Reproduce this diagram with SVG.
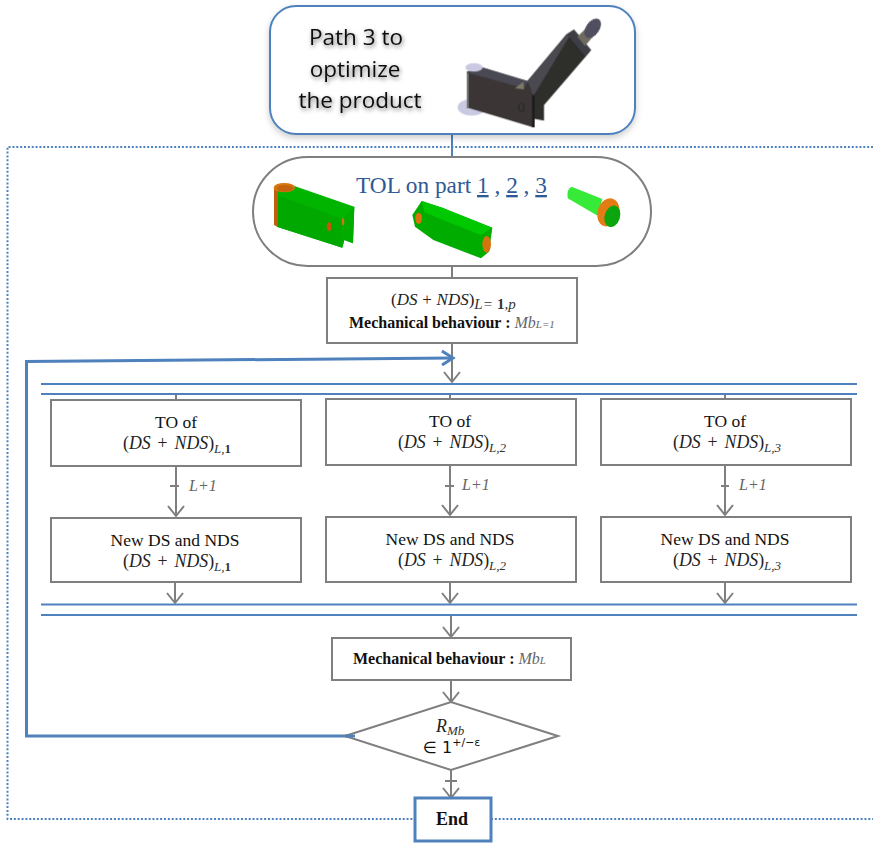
<svg xmlns="http://www.w3.org/2000/svg" width="873" height="843" viewBox="0 0 873 843">
<defs>
<style>
text{font-family:"Liberation Serif","Times New Roman",serif;fill:#111}
.t{text-anchor:middle;font-size:17.5px}
.b{font-weight:bold;font-size:16px}
.m{font-size:17.8px;fill:#222;word-spacing:2.5px}
.m .i{font-style:italic}
.s{font-size:13px;font-style:italic;fill:#333}
.g{font-style:italic;fill:#666}
.l{font-size:16px}
.gr{fill:#fff;stroke:#7f7f7f;stroke-width:2}
.cn{fill:none;stroke:#7f7f7f;stroke-width:2}
.bl{fill:none;stroke:#4f81bd;stroke-width:2}
.dot{fill:none;stroke:#4f81bd;stroke-width:2;stroke-dasharray:2 1.85}
.pt{font-family:"Open Sans","Noto Sans",sans-serif;font-size:22.5px;text-anchor:middle}
</style>
<marker id="a" markerUnits="userSpaceOnUse" markerWidth="20" markerHeight="20" refX="11" refY="10" orient="auto"><path d="M1 2 L11 10 L1 18" fill="none" stroke="#7f7f7f" stroke-width="2"/></marker>
<marker id="ab" markerUnits="userSpaceOnUse" markerWidth="20" markerHeight="20" refX="13" refY="10" orient="auto"><path d="M2 3 L13 10 L2 17" fill="none" stroke="#4f81bd" stroke-width="3"/></marker>
<filter id="sh" x="-10%" y="-10%" width="120%" height="125%"><feDropShadow dx="0" dy="3" stdDeviation="3" flood-color="#000" flood-opacity=".2"/></filter>
<filter id="ts" x="-15%" y="-30%" width="130%" height="170%"><feDropShadow dx="1" dy="2" stdDeviation="2" flood-color="#000" flood-opacity=".55"/></filter>
<filter id="bs" x="-5%" y="-5%" width="110%" height="110%"><feGaussianBlur stdDeviation=".6"/></filter>
</defs>
<rect width="873" height="843" fill="#fff"/>

<g id="frame">
<path class="dot" d="M873 147 H7.5 V819 H415"/>
<path class="dot" d="M491 819 H873"/>
</g>

<g id="connectors">
<path d="M452 134 V157" class="bl"/>
<path d="M452 266 V278" class="cn"/>
<path d="M452 343 V382" class="cn" marker-end="url(#a)"/>
<path d="M176 394 V400 M450 393 V399 M725 393 V399" class="cn"/>
<path d="M176 466 V516" class="cn" marker-end="url(#a)"/>
<path d="M450 465 V515" class="cn" marker-end="url(#a)"/>
<path d="M725 465 V515" class="cn" marker-end="url(#a)"/>
<path d="M170 486 H179 M445 486 H454 M721 486 H729" class="cn"/>
<path d="M175 582 V603" class="cn" marker-end="url(#a)"/>
<path d="M450 582 V603" class="cn" marker-end="url(#a)"/>
<path d="M725 582 V603" class="cn" marker-end="url(#a)"/>
<path d="M451 615 V637" class="cn" marker-end="url(#a)"/>
<path d="M451 680 V702" class="cn" marker-end="url(#a)"/>
<path d="M451 770 V798" class="cn" marker-end="url(#a)"/>
<path d="M445 781 H457" class="cn"/>
<path d="M41 384 H857 M41 394 H857 M41 604.500 H857 M41 615 H857" class="bl"/>
<path d="M355 736 H26.500 V361.500 L453 358" fill="none" stroke="#4f81bd" stroke-width="3" marker-end="url(#ab)"/>
</g>

<g id="start">
<rect x="270" y="6" width="365" height="128" rx="26" fill="#fff" stroke="#4f81bd" stroke-width="2" filter="url(#sh)"/>
<g filter="url(#ts)">
<text x="356" y="45" class="pt">Path 3 to</text>
<text x="355" y="77" class="pt">optimize</text>
<text x="360" y="108" class="pt">the product</text>
</g>
<g transform="translate(450 20) scale(.3333)" filter="url(#bs)">
<ellipse cx="65" cy="262" rx="42" ry="25" fill="#c9c9e2"/>
<path d="M50 155 L95 142 L235 185 L250 225 L250 322 L50 262Z" fill="#3a3636"/>
<path d="M90 140 L235 183 L222 205 L52 158Z" fill="#4a4852"/>
<path d="M232 183 L350 42 L420 95 L282 255 L282 302 L250 296 L250 225Z" fill="#2f2d2b"/>
<path d="M232 183 L350 42 L358 50 L252 225Z" fill="#4a4850"/>
<path d="M195 205 L220 185 L222 208Z" fill="#7d7a66"/>
<path d="M350 42 L372 28 L424 90 L405 108Z" fill="#3d3c44"/>
<path d="M382 50 L408 25 L430 48 L405 78Z" fill="#6e6a60"/>
<ellipse cx="428" cy="25" rx="20" ry="33" transform="rotate(35 428 25)" fill="#50505f"/>
<ellipse cx="72" cy="142" rx="26" ry="13" fill="#c9c9e2"/>
<ellipse cx="214" cy="262" rx="8" ry="13" fill="none" stroke="#1c1c1c" stroke-width="2"/>
<path d="M246 225 H254 V322 H246Z" fill="#1f1d1d"/>
<path d="M50 158 H56 V265 H50Z" fill="#777"/>
</g>
</g>

<g id="tol">
<rect x="253" y="157" width="398" height="109" rx="54.500" class="gr"/>
<text x="356" y="193" style="font-size:23.3px;fill:#2f5a96">TOL on part <tspan text-decoration="underline">1</tspan> , <tspan text-decoration="underline">2</tspan> , <tspan text-decoration="underline">3</tspan></text>
<g transform="translate(265 175) scale(.3333)" filter="url(#bs)">
<path d="M30 40 L50 26 L88 33 L268 95 L264 205 L238 195 L232 218 L35 155Z" fill="#00b400"/>
<path d="M36 60 L232 132 L232 218 L36 155Z" fill="#00a800"/>
<path d="M232 132 L268 95 L264 205 L238 195 L232 218Z" fill="#00ac00"/>
<path d="M27 40 H39 V156 L27 150Z" fill="#c0600a"/>
<ellipse cx="58" cy="38" rx="32" ry="14" fill="#d8760c"/>
<ellipse cx="60" cy="40" rx="24" ry="10" fill="#c4620a"/>
<ellipse cx="192" cy="155" rx="7" ry="13" fill="#c4560a"/>
<ellipse cx="234" cy="140" rx="4" ry="11" fill="#c87a10"/>
</g>
<g transform="translate(405 195) scale(.3333)" filter="url(#bs)">
<path d="M22 60 L50 18 L112 38 L262 98 L252 170 L228 190 L85 135 L30 95Z" fill="#00ac00"/>
<path d="M50 18 L112 38 L262 98 L228 120 L90 65 L58 52Z" fill="#00c800"/>
<ellipse cx="41" cy="70" rx="10" ry="17" fill="#d8720f"/>
<ellipse cx="245" cy="148" rx="13" ry="25" fill="#d8720f"/>
</g>
<g transform="translate(555 175) scale(.3333)" filter="url(#bs)">
<path d="M50 35 L142 72 L128 122 L38 70 Q34 42 50 35Z" fill="#38ea38"/>
<ellipse cx="160" cy="112" rx="32" ry="43" transform="rotate(18 160 112)" fill="#e47c14"/>
<ellipse cx="172" cy="124" rx="23" ry="33" transform="rotate(18 172 124)" fill="#0aa50a"/>
</g>
</g>

<g id="init">
<rect x="327" y="278" width="250" height="65" class="gr"/>
<text x="391" y="305" class="m" style="font-size:17px;word-spacing:.5px">(<tspan class="i">DS</tspan> + <tspan class="i">NDS</tspan>)<tspan class="s" dy="4" style="font-size:15px">L= </tspan><tspan class="s" style="font-size:15px;font-style:normal;font-weight:bold">1</tspan><tspan class="s" style="font-size:15px">,p</tspan></text>
<text x="349" y="328" class="b">Mechanical behaviour : <tspan class="g" font-weight="normal">Mb</tspan><tspan class="g" font-weight="normal" font-size="11">L=1</tspan></text>
</g>

<g id="to1">
<rect x="51" y="400" width="250" height="66" class="gr"/>
<text x="176" y="428" class="t">TO of</text>
<text x="123" y="449" class="m">(<tspan class="i">DS</tspan> + <tspan class="i">NDS</tspan>)<tspan class="s" dy="4">L,</tspan><tspan class="s" style="font-style:normal;font-weight:bold">1</tspan></text>
</g>
<g id="to2">
<rect x="326" y="399" width="250" height="66" class="gr"/>
<text x="450" y="427" class="t">TO of</text>
<text x="398" y="448" class="m">(<tspan class="i">DS</tspan> + <tspan class="i">NDS</tspan>)<tspan class="s" dy="4">L,2</tspan></text>
</g>
<g id="to3">
<rect x="601" y="399" width="250" height="66" class="gr"/>
<text x="725" y="427" class="t">TO of</text>
<text x="673" y="448" class="m">(<tspan class="i">DS</tspan> + <tspan class="i">NDS</tspan>)<tspan class="s" dy="4">L,3</tspan></text>
</g>

<g id="labels">
<text x="189" y="491" class="g l">L+1</text>
<text x="462" y="490" class="g l">L+1</text>
<text x="739" y="490" class="g l">L+1</text>
</g>

<g id="new1">
<rect x="51" y="518" width="250" height="64" class="gr"/>
<text x="175" y="546" class="t">New DS and NDS</text>
<text x="123" y="567" class="m">(<tspan class="i">DS</tspan> + <tspan class="i">NDS</tspan>)<tspan class="s" dy="4">L,</tspan><tspan class="s" style="font-style:normal;font-weight:bold">1</tspan></text>
</g>
<g id="new2">
<rect x="326" y="517" width="250" height="65" class="gr"/>
<text x="450" y="545" class="t">New DS and NDS</text>
<text x="398" y="566" class="m">(<tspan class="i">DS</tspan> + <tspan class="i">NDS</tspan>)<tspan class="s" dy="4">L,2</tspan></text>
</g>
<g id="new3">
<rect x="601" y="517" width="250" height="65" class="gr"/>
<text x="725" y="545" class="t">New DS and NDS</text>
<text x="673" y="566" class="m">(<tspan class="i">DS</tspan> + <tspan class="i">NDS</tspan>)<tspan class="s" dy="4">L,3</tspan></text>
</g>

<g id="mb">
<rect x="332" y="638" width="239" height="42" class="gr"/>
<text x="353" y="664" class="b">Mechanical behaviour : <tspan class="g" font-weight="normal">Mb</tspan><tspan class="g" font-weight="normal" font-size="11">L</tspan></text>
</g>

<g id="decision">
<path d="M345 736 L451 702 L558 736 L451 770Z" class="gr"/>
<path d="M345 736 H355" stroke="#4f81bd" stroke-width="3"/>
<text x="436" y="732" class="m"><tspan class="i">R</tspan><tspan class="s" dy="3">Mb</tspan></text>
<text x="423" y="753" style="font-family:'DejaVu Sans',sans-serif;font-size:16px">∈ 1<tspan font-size="11" dy="-7">+/−ε</tspan></text>
</g>

<g id="end">
<rect x="415" y="798" width="76" height="43" fill="#fff" stroke="#4f81bd" stroke-width="3"/>
<text x="452" y="825" text-anchor="middle" style="font-weight:bold;font-size:18px">End</text>
</g>
</svg>
